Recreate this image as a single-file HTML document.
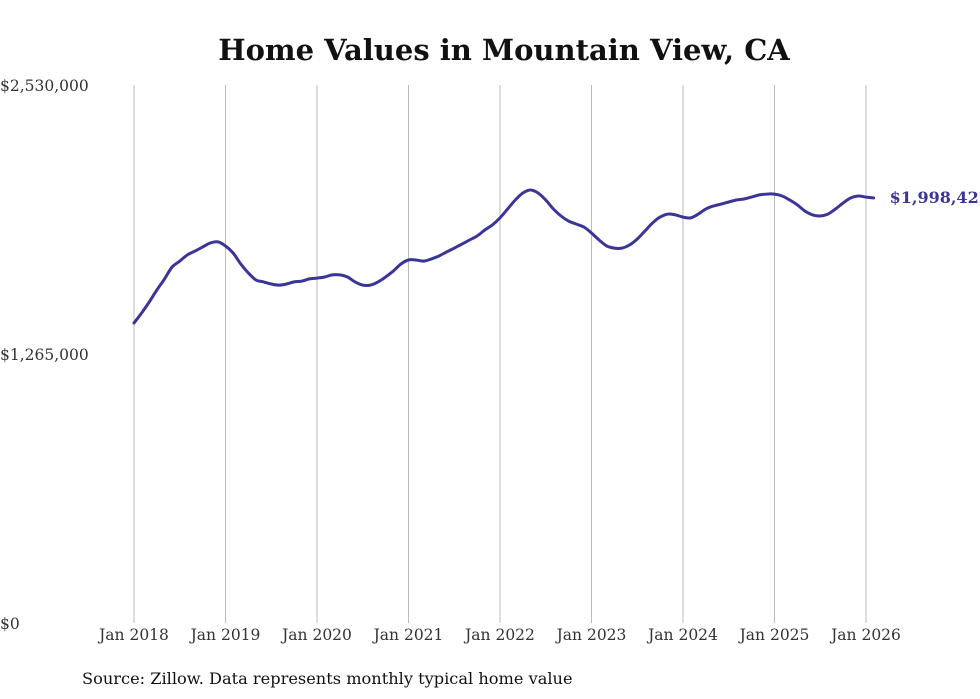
<!DOCTYPE html>
<html><head><meta charset="utf-8"><style>
body{margin:0;background:#fff;}
svg{display:block;font-family:"DejaVu Serif","Liberation Serif",serif;}
</style></head><body>
<svg id="chart" width="980" height="699">
<text x="504" y="60" text-anchor="middle" font-size="29" font-weight="bold" fill="#111">Home Values in Mountain View, CA</text>
<g id="grid"></g><g id="yaxis"></g><g id="xaxis"></g><g id="series"></g>
<text x="82" y="684" font-size="16.2" fill="#111">Source: Zillow. Data represents monthly typical home value</text>
</svg>
<script>
const yTicks=[0,1265000,2530000];
const yTickLabels=["$0","$1,265,000","$2,530,000"];
const xYears=[2018,2019,2020,2021,2022,2023,2024,2025,2026];
const xTickLabels=["Jan 2018","Jan 2019","Jan 2020","Jan 2021","Jan 2022","Jan 2023","Jan 2024","Jan 2025","Jan 2026"];
const startYear=2018;
const values=[1411,1458,1510,1566,1618,1674,1702,1731,1749,1768,1787,1792,1773,1740,1688,1646,1613,1604,1594,1589,1594,1604,1608,1618,1622,1627,1637,1637,1627,1604,1589,1589,1604,1627,1655,1688,1707,1707,1702,1712,1726,1745,1763,1782,1801,1820,1848,1872,1905,1947,1989,2022,2036,2022,1989,1947,1914,1890,1876,1862,1834,1801,1773,1763,1763,1778,1806,1843,1881,1909,1923,1919,1909,1905,1923,1947,1961,1970,1980,1989,1994,2003,2013,2017,2017,2008,1989,1966,1937,1919,1914,1923,1947,1975,1999,2008,2003,1998.422];
const lastLabel="$1,998,422";
const NS="http://www.w3.org/2000/svg";
const x0=134,pxPerYear=91.5,yBase=623,yTop=85,yMax=2530000;
const xs=m=>x0+m*pxPerYear/12;
const ys=v=>yBase-(v/yMax)*(yBase-yTop);
function mk(t,a,p){const e=document.createElementNS(NS,t);for(const k in a)e.setAttribute(k,a[k]);p.appendChild(e);return e;}
const grid=document.getElementById('grid'),xa=document.getElementById('xaxis'),ya=document.getElementById('yaxis'),se=document.getElementById('series');
xYears.forEach((yr,i)=>{
  const x=xs((yr-startYear)*12);
  const l=mk('line',{x1:x,x2:x,y1:yTop,y2:yBase,stroke:'#bbb','stroke-width':1},grid);
  
  
  const t=mk('text',{x:x,y:640,'text-anchor':'middle','font-size':15.5,fill:'#333'},xa);
  t.textContent=xTickLabels[i];
  
  
});
yTicks.forEach((v,i)=>{
  const t=mk('text',{x:0,y:ys(v)+6,'font-size':15.5,fill:'#333'},ya);
  t.textContent=yTickLabels[i];
  
  
});
const pts=values.map((v,m)=>[xs(m),ys(v*1000)]);
let d='M'+pts[0][0].toFixed(1)+','+pts[0][1].toFixed(1);
for(let i=0;i<pts.length-1;i++){
  const p0=pts[Math.max(0,i-1)],p1=pts[i],p2=pts[i+1],p3=pts[Math.min(pts.length-1,i+2)];
  const c1=[p1[0]+(p2[0]-p0[0])/6,p1[1]+(p2[1]-p0[1])/6],c2=[p2[0]-(p3[0]-p1[0])/6,p2[1]-(p3[1]-p1[1])/6];
  d+=' C'+c1[0].toFixed(1)+','+c1[1].toFixed(1)+' '+c2[0].toFixed(1)+','+c2[1].toFixed(1)+' '+p2[0].toFixed(1)+','+p2[1].toFixed(1);
}
const p=mk('path',{d:d,fill:'none',stroke:'#3a3596','stroke-width':3,'stroke-linejoin':'round','stroke-linecap':'round'},se);


const lm=values.length-1;
const lt=mk('text',{x:xs(lm)+16,y:ys(values[lm]*1000)+5,'font-size':16,'font-weight':'bold',fill:'#3a3596'},se);
lt.textContent=lastLabel;


</script>
</body></html>
